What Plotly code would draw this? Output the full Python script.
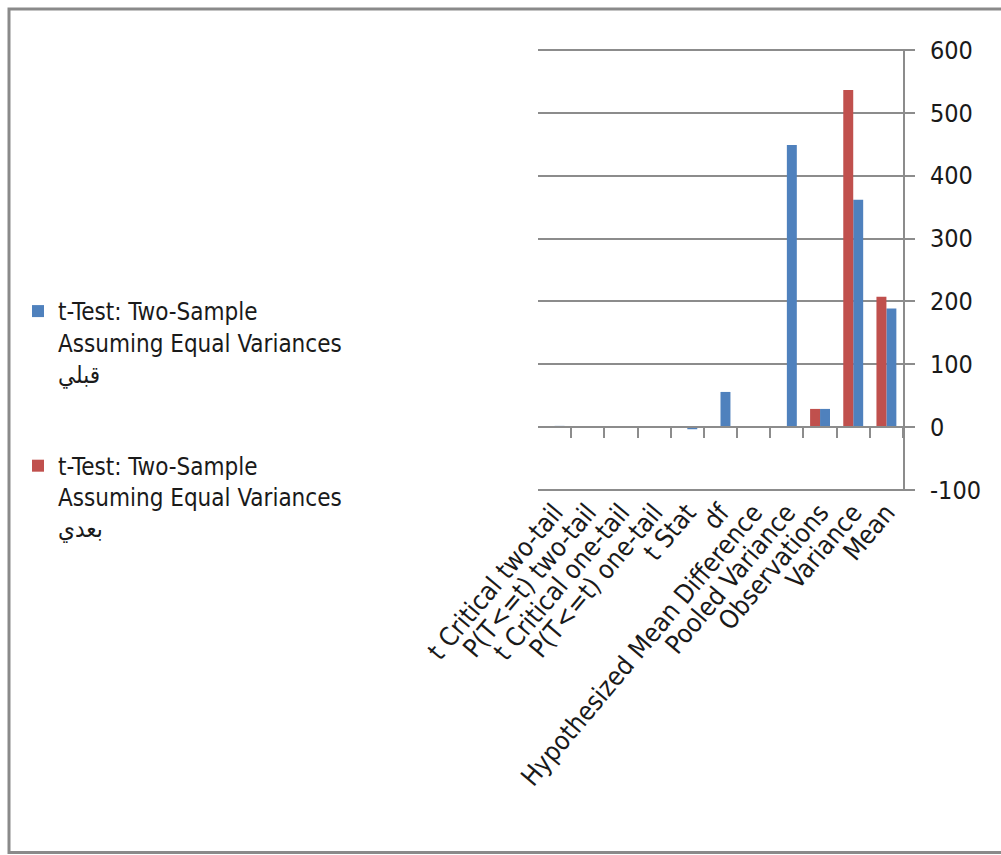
import plotly.graph_objects as go

# Two-sample t-test summary (before / after)
categories = [
    "Mean", "Variance", "Observations", "Pooled Variance",
    "Hypothesized Mean Difference", "df", "t Stat",
    "P(T<=t) one-tail", "t Critical one-tail",
    "P(T<=t) two-tail", "t Critical two-tail",
]
before_values = [188.8, 361.7, 29, 448.9, 0, 56, -3.34, 0.0008, 1.67, 0.0015, 2.00]
after_values = [207.4, 536.2, 29, None, None, None, None, None, None, None, None]

before_name = "t-Test: Two-Sample<br>Assuming Equal Variances<br>قبلي"
after_name = "t-Test: Two-Sample<br>Assuming Equal Variances<br>بعدي"

y_ticks = [-100, 0, 100, 200, 300, 400, 500, 600]
y_tick_text = ["-100", "0", "100", "200", "300", "400", "500", "600"]

BLUE = "#4F81BD"
RED = "#C0504D"
GRID = "#8C8C8C"
FONT = "DejaVu Sans Condensed, Liberation Sans Narrow, Arial, sans-serif"
FSIZE = 24

W, H = 1001, 855
L, R, T, B = 538, 98, 49, 364
plot_w = W - L - R
plot_h = H - T - B

fig = go.Figure()
fig.add_trace(go.Bar(x=categories, y=before_values, name=before_name,
                     marker_color=BLUE, marker_line_width=0, legendgroup="a"))
fig.add_trace(go.Bar(x=categories, y=after_values, name=after_name,
                     marker_color=RED, marker_line_width=0, legendgroup="b"))

# pad the range a hair so the -100 and 600 gridlines are drawn
y_lo, y_hi = y_ticks[0] - 1.6, y_ticks[-1] + 1.6
zero_pos = (0 - y_lo) / (y_hi - y_lo)

fig.update_layout(
    template="none",
    width=W, height=H,
    margin=dict(l=L, r=R, t=T, b=B, autoexpand=False),
    paper_bgcolor="white", plot_bgcolor="white",
    font=dict(family=FONT, size=FSIZE, color="#1a1a1a"),
    barmode="group", bargap=0.4, bargroupgap=0,
    showlegend=True,
    legend=dict(
        xref="container", yref="container",
        x=0.018, y=0.662, xanchor="left", yanchor="top",
        font=dict(family=FONT, size=FSIZE),
        valign="top", tracegroupgap=58, bgcolor="rgba(0,0,0,0)",
        borderwidth=0, traceorder="grouped",
    ),
    xaxis=dict(
        type="category", autorange="reversed", automargin=False,
        tickmode="array", tickvals=categories, ticktext=categories,
        showgrid=False, showline=False, zeroline=False,
        ticks="", tickangle=-50, tickfont=dict(size=26),
    ),
    xaxis2=dict(
        type="category", overlaying="x", anchor="free", position=zero_pos,
        matches="x", showticklabels=False, showgrid=False, automargin=False,
        showline=True, linecolor=GRID, linewidth=2,
        ticks="outside", tickson="boundaries", ticklen=10,
        tickcolor=GRID, tickwidth=2,
    ),
    yaxis=dict(
        side="right", range=[y_lo, y_hi], automargin=False,
        tickmode="array", tickvals=y_ticks, ticktext=y_tick_text,
        showgrid=True, gridcolor=GRID, gridwidth=2,
        showline=True, linecolor=GRID, linewidth=2,
        ticks="outside", ticklen=10, tickcolor=GRID, tickwidth=2,
        zeroline=False, tickfont=dict(size=25, color="#1a1a1a"),
        ticklabelstandoff=10,
    ),
)

# empty helper trace so the boundary-tick axis is drawn at y = 0
fig.add_trace(go.Bar(x=categories, y=[None] * len(categories), xaxis="x2",
                     showlegend=False, hoverinfo="skip"))

# outer chart border
fig.add_shape(
    type="rect", xref="paper", yref="paper",
    x0=(9 - L) / plot_w, x1=(W + 5 - L) / plot_w,
    y0=(H - B - 852.5) / plot_h, y1=(H - B - 9) / plot_h,
    line=dict(color="#8A8A8A", width=3), fillcolor="rgba(0,0,0,0)", layer="below",
)

fig.write_html("out.html")
